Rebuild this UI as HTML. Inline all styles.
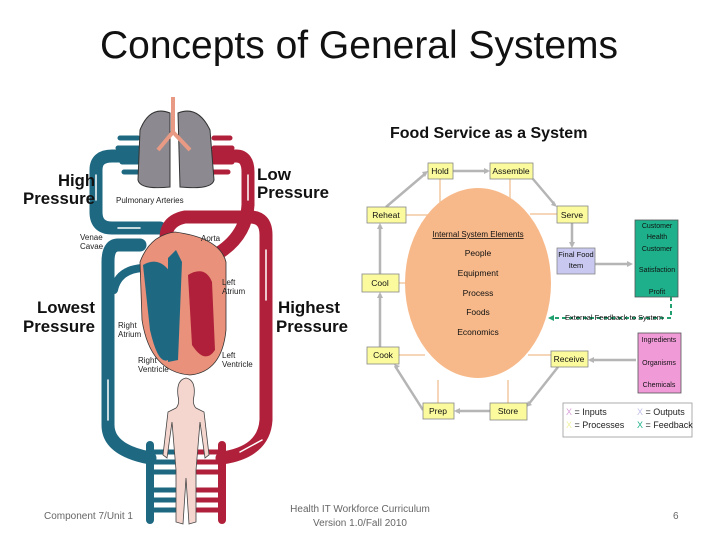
<!DOCTYPE html>
<html><head><meta charset="utf-8"><style>
html,body{margin:0;padding:0;background:#fff;}
svg{display:block;font-family:"Liberation Sans",sans-serif;}
</style></head><body>
<svg width="720" height="540" viewBox="0 0 720 540">
<text x="359" y="58" font-size="39" text-anchor="middle" fill="#111" textLength="518" lengthAdjust="spacingAndGlyphs">Concepts of General Systems</text>

<!-- circulatory -->
<g fill="none" stroke-linecap="round" stroke-linejoin="round">
 <path d="M160,228 L112,228 Q96,228 96,212 L96,170 Q96,156 112,156 L138,156" stroke="#1e6882" stroke-width="13"/>
 <path d="M214,156 L236,156 Q248,156 248,172 L248,205 Q246,240 210,258" stroke="#b0203a" stroke-width="13"/>
 <path d="M168,250 Q160,222 185,217 L250,217 Q266,217 266,235 L266,420 Q264,452 222,458" stroke="#b0203a" stroke-width="13"/>
 <path d="M140,245 L118,245 Q108,245 108,262 L108,425 Q108,450 150,458" stroke="#1e6882" stroke-width="13"/>
 <path d="M142,268 Q118,270 114,290" stroke="#1e6882" stroke-width="8"/>
 <path d="M150,445 L150,520" stroke-width="8" stroke="#1e6882"/>
 <path d="M222,445 L222,520" stroke-width="8" stroke="#b0203a"/>
 <g stroke-width="5">
  <path d="M150,452 H175 M150,462 H175 M150,472 H175 M150,490 H175 M150,500 H175 M150,510 H175" stroke="#1e6882"/>
  <path d="M197,452 H222 M197,462 H222 M197,472 H222 M197,490 H222 M197,500 H222 M197,510 H222" stroke="#b0203a"/>
 </g>
 <g stroke-width="5">
  <path d="M120,138 H138 M118,148 H138 M122,162 H138 M124,172 H138" stroke="#1e6882"/>
  <path d="M214,138 H230 M214,148 H232 M214,162 H232 M214,172 H228" stroke="#b0203a"/>
 </g>
 <g stroke="#fff" stroke-width="1.5">
  <path d="M96,200 L96,175 M108,420 L108,380 M266,250 L266,300 M248,175 L248,200 M140,228 L118,228 M262,440 L240,452"/>
 </g>
</g>
<path d="M170,113 Q150,105 140,130 L138,180 Q140,190 170,187 Z" fill="#8c8a90" stroke="#333" stroke-width="1"/>
<path d="M178,113 Q198,105 210,130 L214,180 Q212,190 180,187 Z" fill="#8c8a90" stroke="#333" stroke-width="1"/>
<path d="M173,97 L173,132 M173,132 L158,150 M173,132 L190,150" stroke="#e89a84" stroke-width="4" fill="none"/>
<path d="M140,262 Q150,235 175,232 Q220,238 226,262 L226,330 Q222,372 190,375 Q150,372 142,320 Z" fill="#e9917a" stroke="#333" stroke-width="0.8"/>
<path d="M143,265 Q160,255 172,275 L168,360 Q158,365 150,330 Z" fill="#1e6882"/>
<path d="M168,258 L176,250 L182,262 L178,360 L168,362 Z" fill="#1e6882"/>
<path d="M188,275 Q205,265 212,282 L215,350 Q205,365 192,345 Z" fill="#b0203a"/>
<path d="M186,378 Q176,380 178,396 Q180,404 176,408 L168,412 L163,455 L167,458 L172,422 L176,470 L176,522 L183,524 L186,478 L189,524 L196,522 L196,470 L200,422 L205,458 L209,455 L204,412 L196,408 Q192,404 194,396 Q196,380 186,378 Z" fill="#f4d6cf" stroke="#444" stroke-width="0.8"/>

<g font-weight="bold" font-size="17" fill="#111">
 <text x="58" y="186" textLength="37" lengthAdjust="spacingAndGlyphs">High</text>
 <text x="23" y="204" textLength="72" lengthAdjust="spacingAndGlyphs">Pressure</text>
 <text x="257" y="180" textLength="34" lengthAdjust="spacingAndGlyphs">Low</text>
 <text x="257" y="198" textLength="72" lengthAdjust="spacingAndGlyphs">Pressure</text>
 <text x="37" y="313" textLength="58" lengthAdjust="spacingAndGlyphs">Lowest</text>
 <text x="23" y="332" textLength="72" lengthAdjust="spacingAndGlyphs">Pressure</text>
 <text x="278" y="313" textLength="62" lengthAdjust="spacingAndGlyphs">Highest</text>
 <text x="276" y="332" textLength="72" lengthAdjust="spacingAndGlyphs">Pressure</text>
</g>
<g font-size="8" fill="#222">
 <text x="116" y="203">Pulmonary Arteries</text>
 <text x="80" y="240">Venae</text><text x="80" y="249">Cavae</text>
 <text x="201" y="241">Aorta</text>
 <text x="222" y="285">Left</text><text x="222" y="294">Atrium</text>
 <text x="118" y="328">Right</text><text x="118" y="337">Atrium</text>
 <text x="138" y="363">Right</text><text x="138" y="372">Ventricle</text>
 <text x="222" y="358">Left</text><text x="222" y="367">Ventricle</text>
</g>

<text x="390" y="138" font-size="16" font-weight="bold" fill="#111">Food Service as a System</text>
<g stroke="#f2c9a0" stroke-width="1.5">
 <path d="M440,179 V210 M510,179 V210 M406,215 H430 M530,214 H557 M399,283 H410 M399,355 H425 M528,355 H551 M438,403 V380 M508,403 V380"/>
</g>
<ellipse cx="478" cy="283" rx="73" ry="95" fill="#f7b98a"/>
<g stroke="#b5b5b5" stroke-width="2.5" fill="none">
 <path d="M453,171 H488 M533,179 L555,205 M572,223 V246 M595,264 H630 M636,360 H590 M558,367 L528,405 M490,411 H456 M423,410 L395,366 M380,347 V294 M380,274 V225 M386,207 L426,173"/>
</g>
<g fill="#b5b5b5">
 <path d="M490,171 l-6,-3 v6z M557,207 l-6,-2 l3,-4z M572,248 l-3,-6 h6z M633,264 l-6,-3 v6z M588,360 l6,-3 v6z M526,407 l2,-6 l4,4z M454,411 l6,-3 v6z M394,364 l6,2 l-4,3z M380,292 l-3,6 h6z M380,223 l-3,6 h6z M428,171 l-6,1 l3,5z"/>
</g>
<g fill="#fbfb9e" stroke="#888" stroke-width="0.8">
 <rect x="428" y="163" width="25" height="16"/><rect x="490" y="163" width="43" height="16"/>
 <rect x="367" y="207" width="39" height="16"/><rect x="557" y="206" width="31" height="17"/>
 <rect x="362" y="274" width="37" height="18"/><rect x="367" y="347" width="32" height="17"/>
 <rect x="551" y="351" width="37" height="16"/><rect x="423" y="403" width="31" height="16"/>
 <rect x="490" y="403" width="37" height="17"/>
</g>
<rect x="557" y="248" width="38" height="26" fill="#c8c8f0" stroke="#888" stroke-width="0.8"/>
<rect x="635" y="220" width="43" height="77" fill="#1db08a" stroke="#555" stroke-width="0.8"/>
<rect x="638" y="333" width="43" height="60" fill="#f09ad8" stroke="#555" stroke-width="0.8"/>
<rect x="563" y="403" width="129" height="34" fill="#fff" stroke="#999" stroke-width="0.8"/>
<path d="M671,297 V318 H552" stroke="#22a070" stroke-width="2" stroke-dasharray="4,3" fill="none"/>
<path d="M548,318 l6,-3 v6z" fill="#22a070"/>
<g font-size="8.5" fill="#111" text-anchor="middle">
 <text x="440" y="174">Hold</text><text x="511" y="174">Assemble</text>
 <text x="386" y="218">Reheat</text><text x="572" y="218">Serve</text>
 <text x="380" y="286">Cool</text><text x="383" y="358">Cook</text>
 <text x="569" y="362">Receive</text><text x="438" y="414">Prep</text>
 <text x="508" y="414">Store</text>
 <text x="576" y="257" font-size="7.5">Final Food</text><text x="576" y="268" font-size="7.5">Item</text>
 <g font-size="7"><text x="657" y="228">Customer</text><text x="657" y="239">Health</text>
 <text x="657" y="251">Customer</text><text x="657" y="272">Satisfaction</text><text x="657" y="294">Profit</text>
 <text x="659" y="342">Ingredients</text><text x="659" y="365">Organisms</text><text x="659" y="387">Chemicals</text></g>
 <text x="478" y="237" font-size="8" text-decoration="underline">Internal System Elements</text>
 <text x="478" y="256">People</text><text x="478" y="276">Equipment</text>
 <text x="478" y="296">Process</text><text x="478" y="315">Foods</text><text x="478" y="335">Economics</text>
</g>
<text x="565" y="320" font-size="7.5" fill="#111">External Feedback to System</text>
<g font-size="9" fill="#222">
 <text x="566" y="415"><tspan fill="#d8a0d8">X</tspan> = Inputs</text>
 <text x="566" y="428"><tspan fill="#f0f0a0">X</tspan> = Processes</text>
 <text x="637" y="415"><tspan fill="#c0c0e8">X</tspan> = Outputs</text>
 <text x="637" y="428"><tspan fill="#1db08a">X</tspan> = Feedback</text>
</g>

<g font-size="10" fill="#666">
 <text x="44" y="519">Component 7/Unit 1</text>
 <text x="360" y="512" text-anchor="middle">Health IT Workforce Curriculum</text>
 <text x="360" y="526" text-anchor="middle">Version 1.0/Fall 2010</text>
 <text x="673" y="519">6</text>
</g>
</svg>
</body></html>
